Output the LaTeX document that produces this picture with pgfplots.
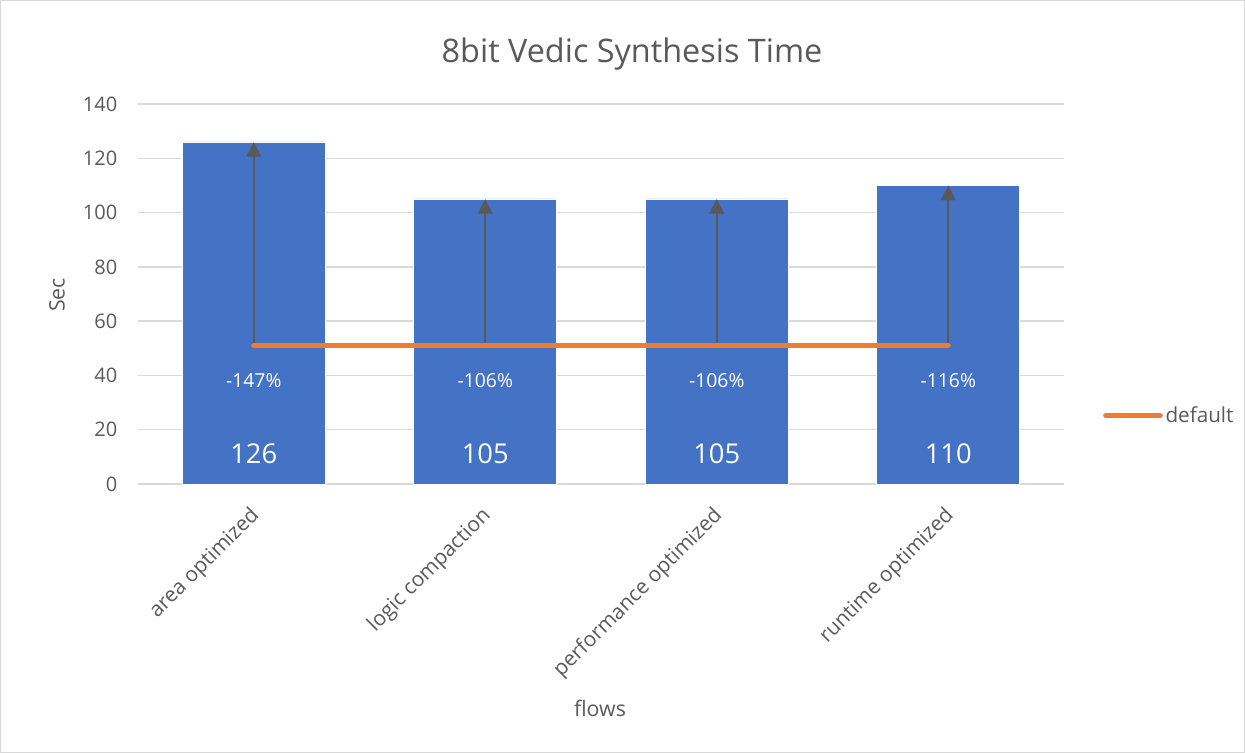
\documentclass[border=0pt]{standalone}
\usepackage{fontspec}
\setmainfont{Open Sans}
\usepackage{pgfplots}
\usepackage{pgfplotstable}
\pgfplotsset{compat=1.18}
\usetikzlibrary{arrows.meta}

\definecolor{barblue}{RGB}{68,114,196}
\definecolor{lineorange}{RGB}{237,125,49}
\definecolor{txtgray}{RGB}{89,89,89}
\definecolor{gridgray}{RGB}{217,217,217}

% synthesis time per flow (sec), default flow time, label heights
\pgfplotstableread{
x y def valy pcty pct
0 126 51 11 38 -147
1 105 51 11 38 -106
2 105 51 11 38 -106
3 110 51 11 38 -116
}\flows

\begin{document}
\begin{tikzpicture}
\path[use as bounding box] (0pt,0pt) rectangle (933.75pt,564.75pt);
\draw[gridgray, line width=0.75pt] (0.4pt,0.4pt) rectangle (933.35pt,564.35pt);

\node[text=txtgray, font=\fontsize{24.3}{29}\selectfont] at (474pt,524.5pt) {8bit Vedic Synthesis Time};
\node[text=txtgray, font=\fontsize{16}{19}\selectfont, rotate=90] at (42.75pt,343.5pt) {Sec};
\node[text=txtgray, font=\fontsize{16}{19}\selectfont] at (450pt,33.75pt) {flows};

\begin{axis}[
  at={(103.5pt,201.75pt)}, anchor=south west,
  width=694.5pt, height=285pt, scale only axis,
  xmin=-0.5, xmax=3.5, ymin=0, ymax=140,
  ytick={0,20,...,140},
  xtick={0,1,2,3},
  xticklabels={area optimized, logic compaction, performance optimized, runtime optimized},
  axis line style={draw=none},
  major tick length=0pt,
  ymajorgrids,
  grid style={gridgray, line width=1.1pt},
  tick label style={font=\fontsize{15}{18}\selectfont, text=txtgray},
  /pgf/number format/assume math mode=true,
  yticklabel style={xshift=-12pt},
  xticklabel style={rotate=45, anchor=north east, xshift=-10.4pt, yshift=-5pt,
    font=\fontsize{15.6}{18}\selectfont},
  clip=false,
  legend style={at={(rel axis cs:1.042,0.18)}, anchor=west, draw=none, fill=none,
    font=\fontsize{15.5}{18}\selectfont, text=txtgray, inner sep=0pt},
  legend cell align=left,
  legend image code/.code={\draw[#1] (0pt,0pt) -- (41pt,0pt);},
]
\addplot[forget plot, ybar, bar shift=0pt, bar width=107.25pt, fill=barblue, draw=white, line width=0.4pt]
  table[x=x, y=y] {\flows};

\addplot[forget plot, color=txtgray, line width=1.5pt, -{Triangle[width=11pt,length=11pt]},
  quiver={u=0, v=\thisrow{y}-\thisrow{def}}]
  table[x=x, y=def] {\flows};

\addplot[lineorange, line width=3.75pt, line cap=round] table[x=x, y=def] {\flows};
\addlegendentry{default}

\addplot[forget plot, only marks, mark=none, nodes near coords, point meta=explicit symbolic,
  every node near coord/.append style={font=\fontsize{20.5}{24}\selectfont, text=white, anchor=center}]
  table[x=x, y=valy, meta=y] {\flows};

\addplot[forget plot, only marks, mark=none, nodes near coords={\pgfplotspointmeta\%}, point meta=explicit symbolic,
  every node near coord/.append style={font=\fontsize{14.5}{18}\selectfont, text=white, anchor=center}]
  table[x=x, y=pcty, meta=pct] {\flows};
\end{axis}
\end{tikzpicture}
\end{document}
